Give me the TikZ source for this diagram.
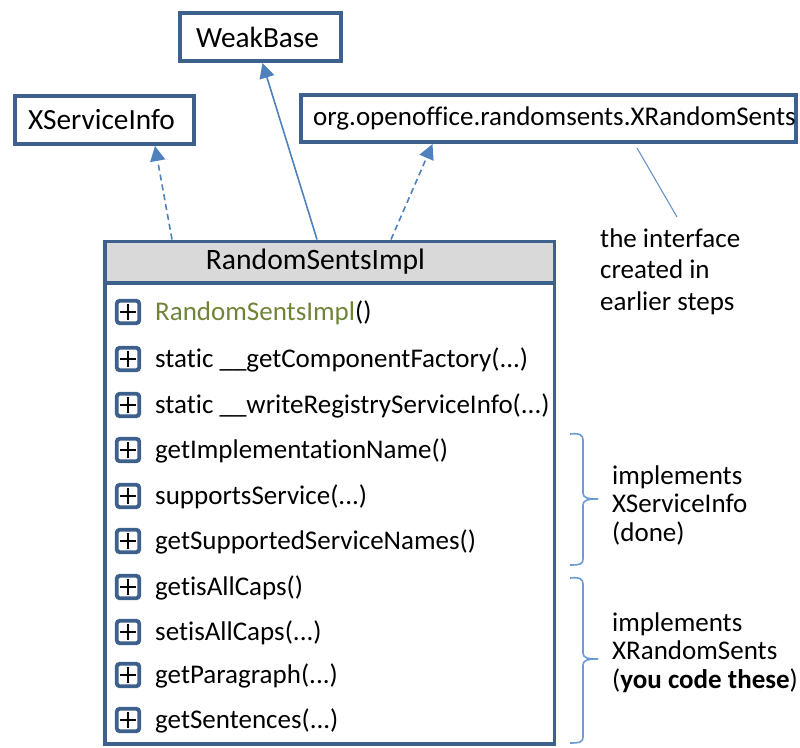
\documentclass[tikz,border=0pt]{standalone}
\usepackage{fontspec}
\setmainfont{Carlito}[Ligatures=NoCommon]
\usetikzlibrary{arrows.meta,calc}
\definecolor{bordc}{RGB}{62,96,140}
\definecolor{arrc}{RGB}{79,129,189}
\definecolor{bracec}{RGB}{110,155,210}
\definecolor{hdrc}{RGB}{217,217,217}
\definecolor{olivec}{RGB}{112,132,56}
\tikzset{
  obox/.style={draw=bordc, line width=4pt, fill=white, inner sep=0pt, font=\fontsize{29.3}{35}\selectfont},
  hdrbox/.style={draw=bordc, line width=3.5pt, fill=hdrc, inner sep=0pt, font=\fontsize{29.6}{35}\selectfont},
  bodybox/.style={draw=bordc, line width=3.5pt, inner sep=0pt},
  pbox/.style={draw=bordc, line width=3.8pt, rounded corners=3pt, fill=white, minimum size=22.5pt, inner sep=0pt,
    path picture={
      \draw[black, line width=2.6pt] ([xshift=-8pt]path picture bounding box.center) -- ([xshift=8pt]path picture bounding box.center);
      \draw[black, line width=2.6pt] ([yshift=-8pt]path picture bounding box.center) -- ([yshift=8pt]path picture bounding box.center);
    }},
  rowtxt/.style={anchor=base west, inner sep=0pt, font=\fontsize{27}{32}\selectfont},
  anntxt/.style={anchor=base west, inner sep=0pt, font=\fontsize{27}{32}\selectfont},
  inh/.style={draw=arrc, line width=1.6pt, -{Triangle[length=15pt,width=15pt]}},
  braceline/.style={draw=bracec, line width=1.6pt},
  noteline/.style={draw=arrc!85, line width=1.1pt}
}
\begin{document}
\begin{tikzpicture}[x=1pt,y=-1pt]
\useasboundingbox (0,0) rectangle (800,747);

% upper boxes
\node[obox, minimum width=161pt, minimum height=48pt] (wb) at (260.5,37) {WeakBase\hspace*{6pt}};
\node[obox, minimum width=179pt, minimum height=48pt] (xsi) at (104.5,120) {XServiceInfo\hspace*{6pt}};
\node[obox, minimum width=495pt, minimum height=47pt, font=\fontsize{27}{33}\selectfont] (org) at (548.5,118.5) {\hspace*{12pt}org.openoffice.randomsents.XRandomSents};

% class box
\node[bodybox, minimum width=449.5pt, minimum height=461pt] (body) at (329.5,513.5) {};
\node[hdrbox, minimum width=449.5pt, minimum height=41.5pt] (hd) at (329.5,262) {RandomSentsImpl\hspace*{28pt}};

% connectors
\draw[inh, dashed, dash pattern=on 6pt off 4pt] ($(hd.north west)+(69,0)$) -- ($(xsi.south)+(50.5,0)$);
\draw[inh] ($(hd.north west)+(214,0)$) -- ($(wb.south)+(2,0)$);
\draw[inh, dashed, dash pattern=on 6pt off 4pt] ($(hd.north west)+(288,0)$) -- ($(org.south)+(-116,0)$);

% note
\coordinate (na) at (637,148);
\coordinate (nb) at (677,217);
\draw[noteline] (na) -- (nb);
\node[anntxt] (n1) at (600,247) {the interface};
\node[anntxt] (n2) at (600,278.5) {created in};
\node[anntxt] (n3) at (600,310) {earlier steps};

% rows
\foreach \i/\yy/\txt in {
  1/312/{{\color{olivec}RandomSentsImpl}()},
  2/359/{static \_\_getComponentFactory(...)},
  3/405/{static \_\_writeRegistryServiceInfo(...)},
  4/450/{getImplementationName()},
  5/496/{supportsService(...)},
  6/541/{getSupportedServiceNames()},
  7/587/{getisAllCaps()},
  8/632/{setisAllCaps(...)},
  9/675/{getParagraph(...)},
  10/720/{getSentences(...)}}{
  \node[pbox] (p\i) at (128,\yy) {};
  \node[rowtxt] (r\i) at (155,\yy+8.5) {\txt};
}

% braces
\draw[braceline] (570,434) .. controls (580,433) and (583,435) .. (583,440) -- (583,493)
  .. controls (583,498) and (588,499) .. (598,499);
\draw[braceline] (598,499) .. controls (588,499) and (583,500) .. (583,505) -- (583,559)
  .. controls (583,564) and (580,565) .. (570,565);
\draw[braceline] (570,578) .. controls (580,577) and (583,579) .. (583,584) -- (583,653)
  .. controls (583,658) and (588,659) .. (598,659);
\draw[braceline] (598,659) .. controls (588,659) and (583,660) .. (583,665) -- (583,737)
  .. controls (583,742) and (580,743) .. (570,743);

\node[anntxt] (i1) at (612,484) {implements};
\node[anntxt] (i2) at (612,512.5) {XServiceInfo};
\node[anntxt] (i3) at (612,541) {(done)};
\node[anntxt] (j1) at (612,631) {implements};
\node[anntxt] (j2) at (612,659.5) {XRandomSents};
\node[anntxt] (j3) at (612,688) {(\textbf{you code these})};
\end{tikzpicture}
\end{document}
